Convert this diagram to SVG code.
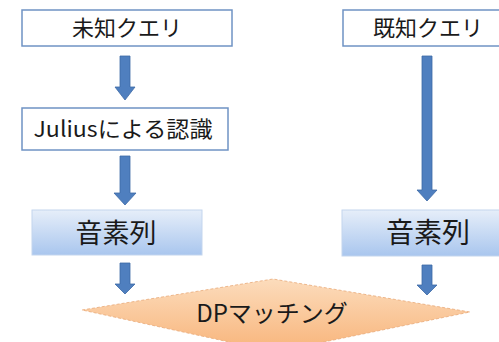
<svg xmlns="http://www.w3.org/2000/svg" width="499" height="342" viewBox="0 0 499 342">
<style>
.box{fill:#ffffff;stroke:#6f93c4;stroke-width:1.5}
.ph{fill:url(#blueGrad);stroke:#c3d5ee;stroke-width:1}
.arr{fill:#4f7fbf;stroke:#3d6aa6;stroke-width:0.8}
.t{font-family:"Noto Sans CJK JP","Noto Sans",sans-serif;fill:#1a1a1a;text-anchor:middle}
</style>
<defs>
<linearGradient id="blueGrad" x1="0" y1="0" x2="0" y2="1">
<stop offset="0" stop-color="#e6eef9"/>
<stop offset="1" stop-color="#a9c6ee"/>
</linearGradient>
<linearGradient id="orangeGrad" x1="0" y1="0" x2="0" y2="1">
<stop offset="0" stop-color="#fcdcbc"/>
<stop offset="1" stop-color="#f8b47a"/>
</linearGradient>
</defs>
<g id="connectors">
<path class="arr" d="M120,56 H130 V87 H135 L125,100 L115,87 H120 Z"/>
<path class="arr" d="M120,156 H130 V193 H136 L125,205 L114,193 H120 Z"/>
<path class="arr" d="M120,263 H130 V284 H135 L125,294 L115,284 H120 Z"/>
<path class="arr" d="M422,56 H432 V190 H437 L427,201 L417,190 H422 Z"/>
<path class="arr" d="M422,265 H432 V285 H437 L427,295 L417,285 H422 Z"/>
</g>
<g id="unknown-query">
<rect class="box" x="22" y="10" width="210" height="36"/>
<text class="t" x="127" y="36" font-size="22">未知クエリ</text>
</g>
<g id="known-query">
<rect class="box" x="343" y="10" width="160" height="36"/>
<text class="t" x="428" y="36" font-size="22">既知クエリ</text>
</g>
<g id="julius">
<rect class="box" x="22" y="108" width="206" height="42"/>
<text class="t" x="123" y="137" font-size="22" textLength="179" lengthAdjust="spacingAndGlyphs">Juliusによる認識</text>
</g>
<g id="phoneme-left">
<rect class="ph" x="32" y="210" width="170" height="45"/>
<text class="t" x="116" y="243" font-size="27">音素列</text>
</g>
<g id="phoneme-right">
<rect class="ph" x="342" y="210" width="162" height="46"/>
<text class="t" x="428" y="243" font-size="28">音素列</text>
</g>
<g id="dp-matching">
<polygon points="82,310 273,279 470,312 275,352" fill="url(#orangeGrad)" stroke="#e9a979" stroke-width="0.8" stroke-dasharray="3,2"/>
<text class="t" x="272" y="322" font-size="24">DPマッチング</text>
</g>
</svg>
